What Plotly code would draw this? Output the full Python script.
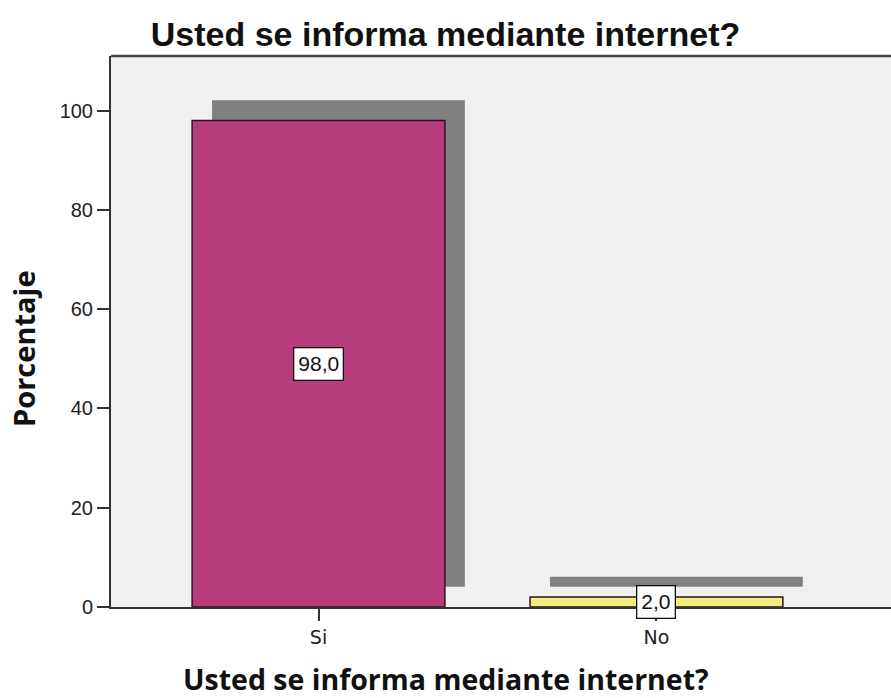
import plotly.graph_objects as go

categories = ["Si", "No"]
percentages = [98.0, 2.0]
bar_colors = ["#B83B7B", "#F2EE80"]
y_ticks = [0, 20, 40, 60, 80, 100]
chart_title = "Usted se informa mediante internet?"
x_title = "Usted se informa mediante internet?"
y_title = "Porcentaje"

shadow_shift = 0.059
shadow_base = 4.1
bar_w = 0.748

# plot-area geometry in pixels
L, T, R, B = 111, 56, 891, 607
PW, PH = R - L, B - T

fig = go.Figure()
# drop shadow
fig.add_trace(go.Bar(
    x=categories, y=percentages, base=shadow_base,
    width=bar_w, offset=-bar_w / 2 + shadow_shift,
    marker=dict(color="#808080", line=dict(width=0)),
    hoverinfo="skip", showlegend=False,
))
# main bars
fig.add_trace(go.Bar(
    x=categories, y=percentages,
    width=bar_w, offset=-bar_w / 2,
    marker=dict(color=bar_colors, line=dict(color="#2a1420", width=1.5)),
    showlegend=False,
))

for c, v in zip(categories, percentages):
    fig.add_annotation(
        x=c, y=v / 2, xref="x", yref="y",
        text=f"{v:.1f}".replace(".", ","),
        showarrow=False,
        font=dict(family="Liberation Sans, Arial", size=21, color="#111"),
        bgcolor="white", bordercolor="#111", borderwidth=1.3, borderpad=4,
    )

# y-axis title
fig.add_annotation(
    x=(23 - L) / PW, y=(B - 349) / PH, xref="paper", yref="paper",
    text=f"<b>{y_title}</b>", showarrow=False, textangle=-90,
    xanchor="center", yanchor="middle",
    font=dict(family="Open Sans", size=29, color="#111"),
)
# x-axis title
fig.add_annotation(
    x=(446 - L) / PW, y=(B - 679) / PH, xref="paper", yref="paper",
    text=f"<b>{x_title}</b>", showarrow=False,
    xanchor="center", yanchor="middle",
    font=dict(family="Open Sans", size=28.5, color="#111"),
)

fig.update_layout(
    width=891, height=698,
    margin=dict(l=L, r=891 - R, t=T, b=698 - B, autoexpand=False),
    paper_bgcolor="white", plot_bgcolor="#F0F0F0",
    barmode="overlay",
    title=dict(
        text=f"<b>{chart_title}</b>", x=0.5, xanchor="center",
        y=1 - 34 / 698, yanchor="middle",
        font=dict(family="Liberation Sans, Arial", size=34, color="#111"),
    ),
    xaxis=dict(
        type="category", range=[-0.614, 1.694], automargin=False,
        showline=True, linecolor="#333", linewidth=2,
        ticks="outside", ticklen=12, tickcolor="#333", tickwidth=1.5,
        tickfont=dict(family="DejaVu Sans", size=19, color="#222"),
        showgrid=False, zeroline=False,
    ),
    yaxis=dict(
        range=[0, 111], tickvals=y_ticks, automargin=False,
        showline=True, linecolor="#333", linewidth=2,
        ticks="outside", ticklen=12, tickcolor="#333", tickwidth=1.5,
        tickfont=dict(family="Liberation Sans, Arial", size=20, color="#222"),
        showgrid=False, zeroline=False,
    ),
)
fig.add_shape(type="line", xref="paper", yref="paper", x0=0, x1=1, y0=1, y1=1,
              line=dict(color="#444", width=2.5))

fig.write_html(
    "out.html",
    config={"displayModeBar": False},
    post_script="document.body.style.margin='0';document.body.style.overflow='hidden';",
)
